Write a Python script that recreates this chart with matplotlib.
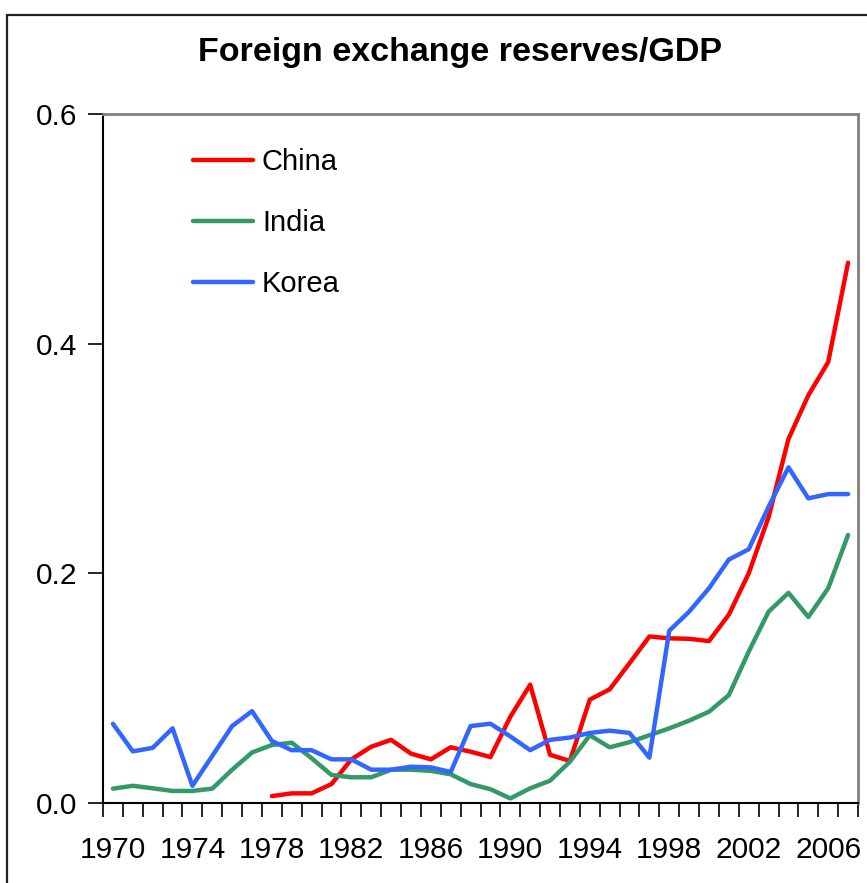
import numpy as np
import matplotlib
matplotlib.use("Agg")
from matplotlib import pyplot as plt
from matplotlib.patches import Rectangle

plt.rcParams['font.family'] = ['Liberation Sans', 'DejaVu Sans']

years = list(range(1970, 2008))
nan = np.nan

china = [nan, nan, nan, nan, nan, nan, nan, nan,
         0.006, 0.0084, 0.0084, 0.0165, 0.038, 0.049, 0.055, 0.043,
         0.038, 0.0485, 0.0447, 0.040, 0.075, 0.103, 0.042, 0.0366,
         0.090, 0.099, 0.1217, 0.145, 0.1434, 0.143, 0.141, 0.164,
         0.200, 0.249, 0.317, 0.355, 0.384, 0.4705]
india = [0.0125, 0.015, 0.0128, 0.0105, 0.0105, 0.0125, 0.029, 0.044,
         0.0505, 0.0525, 0.039, 0.0244, 0.0224, 0.0224, 0.029, 0.029,
         0.028, 0.025, 0.0165, 0.012, 0.004, 0.0128, 0.0194, 0.036,
         0.059, 0.0485, 0.053, 0.059, 0.065, 0.0717, 0.0795, 0.094,
         0.1318, 0.1666, 0.183, 0.162, 0.187, 0.2334]
korea = [0.069, 0.045, 0.048, 0.065, 0.015, 0.041, 0.067, 0.080,
         0.054, 0.046, 0.046, 0.038, 0.038, 0.029, 0.029, 0.0316,
         0.031, 0.027, 0.067, 0.069, 0.058, 0.046, 0.055, 0.057,
         0.061, 0.063, 0.061, 0.0395, 0.150, 0.1666, 0.187, 0.212,
         0.221, 0.258, 0.2923, 0.2653, 0.269, 0.269]

series = [("China", china, "#ff0000"),
          ("India", india, "#339966"),
          ("Korea", korea, "#3366ff")]

W, H = 867, 883
fig = plt.figure(figsize=(W / 100, H / 100), dpi=100)
ax = fig.add_axes([103 / W, 1 - 803 / H, (858 - 103) / W, (803 - 114) / H])

x = np.arange(len(years))
for name, vals, col in series:
    ax.plot(x, vals, color=col, lw=3.2, label=name, solid_capstyle='round')

ax.set_xlim(-0.5, len(years) - 0.5)
ax.set_ylim(0, 0.6)
ax.set_yticks([0.0, 0.2, 0.4, 0.6])
ax.set_yticklabels(["0.0", "0.2", "0.4", "0.6"])

# tick marks on category boundaries, labels every 4 years at the centres
ax.set_xticks(np.arange(-0.5, len(years), 1.0))
ax.set_xticklabels([])
lab_pos = [i for i, y in enumerate(years) if (y - 1970) % 4 == 0]
ax.set_xticks(lab_pos, minor=True)
ax.set_xticklabels([str(years[i]) for i in lab_pos], minor=True)

ax.tick_params(axis='x', which='major', direction='out', length=10, width=1.2, color='black')
ax.tick_params(axis='x', which='minor', length=0, pad=23.5, labelsize=21.5)
ax.tick_params(axis='y', direction='out', length=11, width=1.2, pad=7.5, labelsize=21.5)

for s in ['left', 'bottom']:
    ax.spines[s].set_color('black')
    ax.spines[s].set_linewidth(1.5)
for s in ['top', 'right']:
    ax.spines[s].set_color('#808080')
    ax.spines[s].set_linewidth(2)

ax.legend(loc='upper left', bbox_to_anchor=(0.119, 0.951), frameon=False,
          fontsize=21, handlelength=2.07, handletextpad=0.3, labelspacing=1.14,
          borderpad=0, borderaxespad=0)

fig.text(460 / W, 1 - 53 / H, "Foreign exchange reserves/GDP", ha='center', va='center',
         fontsize=24.5, fontweight='bold')

# outer chart-area frame
fig.patches.append(Rectangle((7 / W, -0.1), 1.2, 1 - 15 / H + 0.1, transform=fig.transFigure,
                             fill=False, edgecolor='#222222', lw=1.6))

fig.savefig("out.png", dpi=100)
